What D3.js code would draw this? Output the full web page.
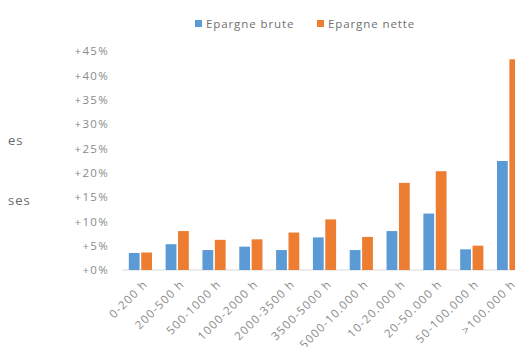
<!DOCTYPE html>
<html><head><meta charset="utf-8">
<script src="https://cdn.jsdelivr.net/npm/d3@7"></script>
<style>
html,body{margin:0;padding:0;background:#fff;}
svg text{font-family:"Open Sans",sans-serif;}
</style></head>
<body>
<svg id="c" width="515" height="347"></svg>
<script>
const categories = ["0-200 h","200-500 h","500-1000 h","1000-2000 h","2000-3500 h","3500-5000 h","5000-10.000 h","10-20.000 h","20-50.000 h","50-100.000 h",">100.000 h"];
const brute = [3.5, 5.3, 4.1, 4.8, 4.1, 6.7, 4.1, 8.0, 11.6, 4.25, 22.4];
const nette = [3.6, 8.0, 6.2, 6.3, 7.7, 10.4, 6.8, 17.9, 20.3, 5.0, 43.3];
const seriesNames = ["Epargne brute","Epargne nette"];
const colors = ["#5B9BD5","#ED7D31"];
const yTicks = [0,5,10,15,20,25,30,35,40,45];
const sideLabels = ["es","ses"];

const svg = d3.select("#c");
const x = d3.scaleBand().domain(categories).range([122, 527]).paddingInner(0.37).paddingOuter(0.185);
const xs = d3.scaleBand().domain([0,1]).range([0, x.bandwidth()]).paddingInner(0.13);
const y = d3.scaleLinear().domain([0,45]).range([270, 51]);

// y axis labels
const ya = svg.append("g").attr("transform","translate(109,0)")
  .call(d3.axisLeft(y).tickValues(yTicks).tickSize(0).tickPadding(0).tickFormat(d => "+" + d + "%"));
ya.select(".domain").remove();
ya.selectAll("text").attr("fill","#8a8a8a").style("font-size","11.5px").style("letter-spacing","1.3px").style("font-family","'Open Sans',sans-serif");

// baseline
svg.append("line").attr("x1",122).attr("x2",527).attr("y1",y(0)).attr("y2",y(0)).attr("stroke","#d9d9d9").attr("stroke-width",1);

const data = categories.map((c,i)=>({c, v:[brute[i], nette[i]]}));
const g = svg.append("g");
data.forEach(d=>{
  d.v.forEach((v,j)=>{
    g.append("rect").attr("x", x(d.c)+xs(j)).attr("width", xs.bandwidth())
      .attr("y", y(v)).attr("height", y(0)-y(v)).attr("fill", colors[j]);
  });
});

// x labels
const xa = svg.append("g");
categories.forEach(c=>{
  const cx = x(c)+x.bandwidth()/2 + 5;
  xa.append("text").attr("transform",`translate(${cx},${282}) rotate(-45)`)
    .attr("text-anchor","end").attr("dy","0.35em")
    .attr("fill","#8a8a8a").style("font-size","11.5px").style("letter-spacing","1.2px").text(c);
});

// legend
const leg = svg.append("g");
const legX = [195, 317];
seriesNames.forEach((n,i)=>{
  leg.append("rect").attr("x",legX[i]).attr("y",20).attr("width",7).attr("height",7).attr("fill",colors[i]);
  leg.append("text").attr("x",legX[i]+11).attr("y",24).attr("dy","0.35em").attr("fill","#707070").style("font-size","11.5px").style("letter-spacing","0.9px").text(n);
});

// cut-off side labels
svg.append("text").attr("x",8).attr("y",140).attr("dy","0.35em").attr("fill","#6a6a6a").style("font-size","13px").style("letter-spacing","1px").text(sideLabels[0]);
svg.append("text").attr("x",8).attr("y",200).attr("dy","0.35em").attr("fill","#6a6a6a").style("font-size","13px").style("letter-spacing","1px").text(sideLabels[1]);
</script>
</body></html>
